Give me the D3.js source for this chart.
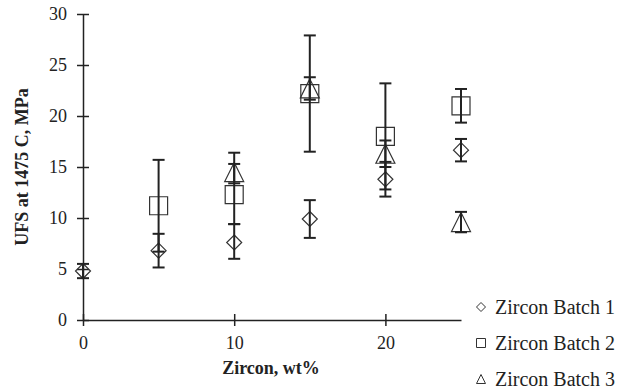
<!DOCTYPE html>
<html><head><meta charset="utf-8">
<script src="https://cdn.jsdelivr.net/npm/d3@7"></script>
<style>body{margin:0;background:#fff;} svg{display:block;}</style>
</head><body><svg id="c" width="630" height="390"></svg>
<script>
// Data
const seriesNames = ["Zircon Batch 1", "Zircon Batch 2", "Zircon Batch 3"];
// Batch 1 (diamond)
const b1x = [0, 5, 10, 15, 20, 25];
const b1 = [4.8, 6.8, 7.6, 9.9, 13.8, 16.65];
const b1up = [0.7, 1.65, 1.8, 1.85, 1.7, 1.1];
const b1dn = [0.7, 1.65, 1.6, 1.85, 1.7, 1.1];
// Batch 2 (square)
const b2x = [5, 10, 15, 20, 25];
const b2 = [11.2, 12.3, 22.2, 18.0, 21.0];
const b2up = [4.5, 3.0, 5.7, 5.2, 1.65];
const b2dn = [4.5, 2.9, 5.7, 5.2, 1.65];
// Batch 3 (triangle)
const b3x = [10, 15, 20, 25];
const b3 = [14.5, 22.7, 16.3, 9.6];
const b3up = [1.9, 1.1, 1.3, 1.0];
const b3dn = [1.1, 1.1, 1.3, 1.0];
const yTicks = [0, 5, 10, 15, 20, 25, 30];
const xTicks = [0, 10, 20];

const FONT = "'Liberation Serif', 'Times New Roman', Times, 'DejaVu Serif', serif";
const svg = d3.select("#c");
const x = d3.scaleLinear().domain([0, 25]).range([83, 461]);
const y = d3.scaleLinear().domain([0, 30]).range([320, 14]);
const ink = "#222";

// Axes
const yAxis = d3.axisLeft(y).tickValues(yTicks).tickSizeInner(6).tickSizeOuter(0);
const gy = svg.append("g").attr("transform", `translate(${x(0)},0)`).call(yAxis);
gy.attr("font-family", null);
gy.select(".domain").attr("stroke", ink).attr("stroke-width", 1.5);
gy.selectAll(".tick line").attr("stroke", ink).attr("stroke-width", 1.5).attr("x1", 6).attr("x2", -6);
gy.selectAll(".tick text").attr("style", `font-family:${FONT};font-size:18px`).attr("fill", ink).attr("x", -16);

const xAxis = d3.axisBottom(x).tickValues(xTicks).tickSizeInner(6).tickSizeOuter(0);
const gx = svg.append("g").attr("transform", `translate(0,${y(0)})`).call(xAxis);
gx.attr("font-family", null);
gx.select(".domain").attr("stroke", ink).attr("stroke-width", 1.5);
gx.selectAll(".tick line").attr("stroke", ink).attr("stroke-width", 1.5).attr("y1", -6).attr("y2", 6);
gx.selectAll(".tick text").attr("style", `font-family:${FONT};font-size:18px`).attr("fill", ink).attr("y", 16);

// Titles
svg.append("text").attr("x", 271).attr("y", 374).attr("text-anchor", "middle").attr("fill", ink)
  .attr("style", `font-family:${FONT};font-size:18px;font-weight:bold`).text("Zircon, wt%");
svg.append("text").attr("transform", "translate(28,167) rotate(-90)").attr("text-anchor", "middle").attr("fill", ink)
  .attr("style", `font-family:${FONT};font-size:18px;font-weight:bold`).text("UFS at 1475 C, MPa");

function diamond(s){return `M0,${-s}L${s},0L0,${s}L${-s},0Z`;}
function square(s){return `M${-s},${-s}H${s}V${s}H${-s}Z`;}
function triangle(s){return `M0,${-s}L${s},${s}H${-s}Z`;}
const shapes = [() => diamond(7.5), () => square(9), () => triangle(9.5)];
const series = [
  {xs: b1x, v: b1, up: b1up, dn: b1dn},
  {xs: b2x, v: b2, up: b2up, dn: b2dn},
  {xs: b3x, v: b3, up: b3up, dn: b3dn}
];

series.forEach((s, si) => {
  const g = svg.append("g");
  const pts = s.xs.map((xv, i) => ({x: xv, v: s.v[i], hi: s.v[i] + s.up[i], lo: s.v[i] - s.dn[i]}));
  g.selectAll("path.m").data(pts).join("path").attr("class", "m")
    .attr("transform", d => `translate(${x(d.x)},${y(d.v)})`)
    .attr("d", shapes[si]).attr("fill", "none").attr("stroke", "#333").attr("stroke-width", 1.2);
  g.selectAll("line.e").data(pts).join("line").attr("class", "e")
    .attr("x1", d => x(d.x)).attr("x2", d => x(d.x)).attr("y1", d => y(d.hi)).attr("y2", d => y(d.lo))
    .attr("stroke", ink).attr("stroke-width", 2);
  ["hi", "lo"].forEach(k => {
    g.selectAll("line.c" + k).data(pts).join("line").attr("class", "c" + k)
      .attr("x1", d => x(d.x) - 6).attr("x2", d => x(d.x) + 6).attr("y1", d => y(d[k])).attr("y2", d => y(d[k]))
      .attr("stroke", ink).attr("stroke-width", 2);
  });
});

// Legend
const leg = svg.append("g");
const legY = [307, 343, 379];
const legShapes = [() => diamond(4.5), () => square(4.5), () => triangle(4.5)];
seriesNames.forEach((n, i) => {
  leg.append("path").attr("transform", `translate(481,${legY[i]})`).attr("d", legShapes[i])
    .attr("fill", "none").attr("stroke", "#333").attr("stroke-width", 1);
  leg.append("text").attr("x", 495).attr("y", legY[i] + 6.5).attr("fill", ink)
    .attr("style", `font-family:${FONT};font-size:20px`).text(n);
});
</script></body></html>
